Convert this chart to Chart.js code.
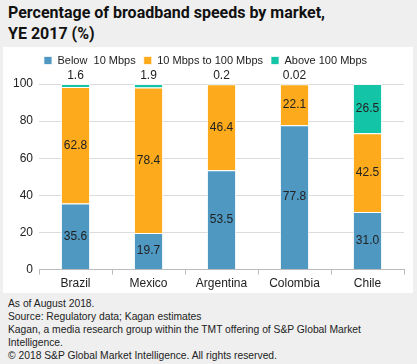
<!DOCTYPE html>
<html>
<head>
<meta charset="utf-8">
<script src="https://cdn.jsdelivr.net/npm/chart.js@4"></script>
<style>
  body { margin: 0; background: #efefef; width: 417px; height: 364px; overflow: hidden; font-family: "Liberation Sans", Arial, sans-serif; }
  #title { position: absolute; left: 8px; top: 2px; font-family: Roboto, "Liberation Sans", sans-serif; font-size: 16px; font-weight: bold; line-height: 21px; color: #111; }
  #panel { position: absolute; left: 3px; top: 47px; width: 410px; height: 246px; background: #fff; }
  #notes { position: absolute; left: 8px; top: 297px; font-size: 10.3px; line-height: 13px; color: #222; }
</style>
</head>
<body>
<div id="title">Percentage of broadband speeds by market,<br>YE 2017 (%)</div>
<div id="panel"><canvas id="myChart" width="410" height="246"></canvas></div>
<div id="notes">
As of August 2018.<br>
Source: Regulatory data; Kagan estimates<br>
Kagan, a media research group within the TMT offering of S&amp;P Global Market<br>
Intelligence.<br>
© 2018 S&amp;P Global Market Intelligence. All rights reserved.
</div>
<script>
// Datos del gráfico
const markets = ['Brazil', 'Mexico', 'Argentina', 'Colombia', 'Chile'];
const below10 = [35.6, 19.7, 53.5, 77.8, 31.0];
const mid10to100 = [62.8, 78.4, 46.4, 22.1, 42.5];
const above100 = [1.6, 1.9, 0.2, 0.02, 26.5];
const yTicks = [0, 20, 40, 60, 80, 100];

// Etiquetas de valores sobre las barras
const valueLabels = {
    id: 'valueLabels',
    afterDatasetsDraw(chart) {
        const ctx = chart.ctx;
        ctx.save();
        ctx.font = '12px "Liberation Sans", Arial, sans-serif';
        ctx.fillStyle = '#222';
        ctx.textAlign = 'center';
        ctx.textBaseline = 'middle';
        chart.data.datasets.forEach((ds, i) => {
            const meta = chart.getDatasetMeta(i);
            meta.data.forEach((bar, j) => {
                const v = ds.data[j];
                const txt = ds.labels ? ds.labels[j] : v.toFixed(1);
                const h = Math.abs(bar.base - bar.y);
                if (h < 12) {
                    ctx.fillText(txt, bar.x, chart.scales.y.getPixelForValue(100) - 8);
                } else {
                    ctx.fillText(txt, bar.x, (bar.y + bar.base) / 2);
                }
            });
        });
        ctx.restore();
    }
};

// Espacio extra debajo de la leyenda
const legendGap = {
    id: 'legendGap',
    beforeInit(chart) {
        const fit = chart.legend.fit;
        chart.legend.fit = function () {
            fit.bind(chart.legend)();
            this.height += 8;
        };
    }
};

const ctx = document.getElementById('myChart').getContext('2d');
const chart = new Chart(ctx, {
    type: 'bar',
    data: {
        labels: markets,
        datasets: [
            { label: 'Below  10 Mbps', data: below10, backgroundColor: '#4e98c2' },
            { label: '10 Mbps to 100 Mbps', data: mid10to100, backgroundColor: '#fdab1c' },
            { label: 'Above 100 Mbps', data: above100, backgroundColor: '#14c4a6',
              labels: ['1.6', '1.9', '0.2', '0.02', '26.5'] }
        ].map(d => Object.assign(d, {
            borderColor: 'rgba(255,255,255,0.7)',
            borderWidth: 1,
            barPercentage: 0.4,
            categoryPercentage: 1
        }))
    },
    options: {
        responsive: false,
        animation: false,
        layout: { padding: { left: 4, right: 9, top: 0, bottom: 0 } },
        plugins: {
            legend: {
                position: 'top',
                labels: {
                    boxWidth: 8,
                    boxHeight: 8,
                    padding: 8,
                    color: '#222',
                    font: { size: 11, family: '"Liberation Sans", Arial, sans-serif' }
                }
            },
            tooltip: { enabled: false }
        },
        scales: {
            x: {
                stacked: true,
                grid: { drawOnChartArea: false, drawTicks: true, tickLength: 5, offset: true, color: '#bbb' },
                border: { color: '#bbb' },
                ticks: { color: '#222', font: { size: 12, family: '"Liberation Sans", Arial, sans-serif' }, padding: 2 }
            },
            y: {
                stacked: true,
                min: 0,
                max: 100,
                afterBuildTicks: axis => { axis.ticks = yTicks.map(v => ({ value: v })); },
                grid: { color: '#dcdcdc', drawTicks: false },
                border: { display: false },
                ticks: { color: '#222', font: { size: 12, family: '"Liberation Sans", Arial, sans-serif' }, padding: 6 }
            }
        }
    },
    plugins: [valueLabels, legendGap]
});
</script>
</body>
</html>
